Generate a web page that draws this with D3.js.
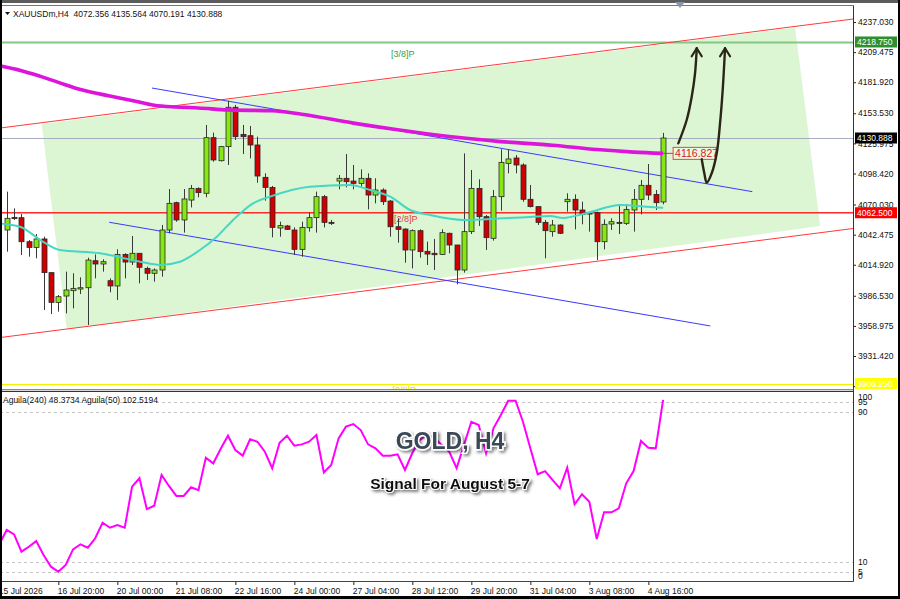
<!doctype html>
<html lang="en">
<head>
<meta charset="utf-8">
<title>XAUUSDm H4</title>
<script src="https://cdn.jsdelivr.net/npm/d3@7"></script>
<style>
  body { margin: 0; overflow: hidden; background: #fff; }
  svg { display: block; font-family: "Liberation Sans", Arial, sans-serif; }
</style>
</head>
<body>
<script>
// ---- candles (H4), bar 0 = leftmost visible bar ----
const opens  = [4046.7,4058.3,4058.0,4036.0,4030.8,4038.5,4007.7,3980.5,3986.3,3991.2,3992.7,3993.9,4018.6,4015.6,4000.3,3995.5,4024.4,4017.4,4025.4,4011.6,4007.1,4010.1,4046.7,4071.7,4055.9,4074.1,4084.8,4080.3,4131.2,4110.1,4123.0,4159.0,4134.2,4133.0,4124.5,4094.9,4085.7,4048.5,4050.4,4046.7,4029.0,4048.8,4058.0,4077.2,4053.7,4091.5,4094.0,4091.5,4089.4,4094.0,4078.7,4083.3,4073.2,4049.7,4047.6,4028.4,4046.1,4027.2,4025.4,4024.4,4043.7,4033.0,4010.1,4045.2,4084.8,4058.9,4039.1,4077.2,4107.7,4112.6,4106.2,4074.8,4068.1,4053.7,4045.2,4051.3,4072.6,4074.8,4065.0,4062.6,4062.6,4036.0,4052.2,4053.7,4052.8,4065.0,4074.8,4087.6,4079.3,4072.356];
const highs  = [4081.8,4066.5,4061.3,4037.5,4043.0,4040.6,4007.7,3987.2,4008.6,4007.1,4003.4,4021.4,4024.4,4019.9,4002.5,4029.0,4025.4,4041.2,4025.4,4013.2,4011.6,4051.3,4084.2,4072.6,4084.2,4087.9,4085.7,4142.8,4135.8,4123.6,4165.0,4161.1,4142.8,4141.9,4132.1,4098.6,4087.0,4054.3,4051.3,4049.1,4054.3,4062.6,4081.8,4078.7,4055.9,4097.0,4116.2,4106.2,4102.2,4098.6,4094.0,4084.8,4074.1,4057.4,4048.2,4047.3,4047.3,4036.0,4038.5,4047.3,4044.3,4033.0,4116.8,4101.6,4093.1,4060.4,4083.3,4120.5,4120.5,4115.3,4107.7,4087.9,4068.1,4055.9,4055.9,4051.9,4080.3,4079.3,4072.6,4062.6,4063.5,4056.5,4057.4,4070.5,4070.5,4084.2,4092.5,4107.1,4083.3,4135.564];
const lows   = [4026.9,4055.9,4023.8,4022.3,4020.8,3973.5,3969.8,3972.0,3970.4,3975.0,3988.1,3959.8,4002.5,4008.6,3989.7,3982.7,4002.5,4014.7,3997.9,4001.0,3999.4,4004.0,4043.7,4054.3,4044.3,4067.4,4076.6,4076.6,4109.2,4109.5,4106.2,4129.1,4116.2,4112.3,4090.0,4073.5,4040.0,4040.6,4046.7,4023.8,4022.3,4045.2,4044.3,4049.1,4051.3,4083.9,4085.7,4083.9,4086.4,4065.6,4071.1,4069.6,4040.6,4035.1,4016.8,4011.6,4021.4,4014.7,4010.1,4023.8,4025.4,3997.0,4007.7,4043.0,4050.4,4028.4,4037.0,4064.4,4098.6,4098.6,4072.6,4067.4,4051.3,4020.8,4040.6,4043.0,4063.5,4047.3,4051.9,4045.2,4019.2,4029.0,4046.7,4043.0,4051.3,4045.2,4061.0,4074.1,4065.0,4070.191];
const closes = [4057.4,4057.1,4036.0,4030.8,4038.5,4007.7,3980.5,3985.7,3991.8,3993.3,3993.9,4019.2,4015.6,4017.7,3995.5,4024.4,4017.4,4025.4,4012.6,4007.1,4010.1,4046.7,4071.1,4055.9,4075.1,4084.8,4080.9,4131.2,4110.8,4123.0,4159.0,4132.1,4132.1,4124.5,4096.1,4085.7,4049.1,4050.7,4047.3,4029.0,4049.1,4058.0,4077.2,4053.7,4052.8,4094.0,4090.9,4089.4,4094.0,4078.7,4083.3,4072.6,4049.7,4047.3,4028.4,4046.1,4026.9,4024.7,4024.1,4044.3,4033.0,4010.1,4045.2,4084.8,4058.9,4039.7,4077.2,4108.6,4111.7,4106.2,4074.8,4068.1,4053.7,4046.1,4051.3,4043.7,4074.8,4065.0,4061.0,4061.3,4036.0,4051.9,4054.3,4052.8,4065.6,4074.8,4087.6,4078.7,4071.7,4130.888];

// ---- moving averages, [bar, price] ----
const maSlow = [[-1,4197.0],[2,4192.5],[4,4188.5],[7,4181.8],[10,4175.2],[14,4169.3],[17,4165.2],[20,4160.8],[23,4159.2],[26,4158.4],[30,4156.6],[36,4155.8],[40,4152.6],[47,4144.5],[53,4138.4],[60,4132.2],[67,4127.6],[74,4124.3],[80,4120.3],[85,4118.0],[89,4116.8]];
const maFast = [[-1,4052.8],[1.8,4049.7],[4.9,4036.0],[7.2,4028.4],[12.7,4025.4],[15,4022.3],[18.1,4017.7],[20.8,4014.7],[23.5,4017.7],[26.2,4028.4],[28.5,4040.6],[30.7,4055.9],[33.4,4071.1],[35.7,4077.2],[41.1,4086.3],[46.5,4087.9],[49.3,4083.3],[52,4077.2],[54.7,4065.0],[57.4,4060.4],[61.9,4055.9],[67.3,4057.4],[71,4058.6],[73.7,4059.5],[75.4,4057.7],[78.7,4062.3],[83.2,4069.6],[86.8,4068.0],[89,4067.1]];

// ---- indicator Aguila(50), starts at bar -1 ----
const aguilaStart = -1;
const aguila50 = [19.5,27.1,24.8,15.6,18.2,21.2,13.8,7.6,4.9,8.5,16.8,19.5,17.7,22.7,31.0,28.3,29.7,28.3,50.1,54.6,38.2,40.0,56.3,50.5,45.2,45.2,49.8,48.3,65.5,62.5,70.1,77.2,69.6,66.6,75.3,74.0,68.7,59.9,73.5,77.2,71.9,72.6,74.0,77.6,57.7,61.6,75.8,82.0,83.4,80.2,72.6,70.5,66.6,66.6,67.3,59.0,68.0,74.9,77.6,76.0,72.2,68.7,59.9,72.2,84.6,82.9,67.8,81.1,88.2,95.8,95.8,84.6,70.5,56.7,58.4,53.7,49.2,60.2,40.7,46.1,42.1,22.3,36.5,36.5,38.6,51.9,58.4,74.4,70.8,70.5,96.2];
const indLevels = [100, 95, 90, 10, 5, 0];
const indDashed = [95, 90, 10, 5];

// ---- drawn objects, [bar, price] ----
const channelUp = [[-0.91,4140.0],[114.8,4239.8]];
const channelDn = [[-0.91,3948.3],[114.8,4048.1]];
const trendUp = [[19.7,4176.6],[101.1,4081.8]];
const trendDn = [[13.9,4053.8],[95.4,3958.9]];
const shadeCorners = [[4.75,4143.7],[106.9,4232.0],[110.3,4050.4],[8.14,3956.1]];
const arrowA = [[91.06,4126.0],[92.2,4147.4],[92.88,4168.7],[93.33,4190.1],[93.56,4213.0]];
const arrowB = [[94.24,4111.4],[94.59,4098.6],[94.92,4090.0],[95.59,4098.6],[96.27,4116.9],[96.72,4144.3],[97.08,4174.8],[97.4,4213.0]];
const maLabel = 4116.827;

// ---- levels ----
const levelPrices = [4218.750, 4130.888, 4062.500, 3906.250];
const levelColors = ["#2e8f2e", "#000000", "#ff0000", "#ffff00"];
const lineColors  = ["#86c686", "#a8adbd", "#ff2a2a", "#f4f000"];
const lineWidths  = [2, 1, 1.6, 1];
const murreyText  = ["[3/8]P", "[2/8]P", "[0/8]P"];
const murreyAt    = [[52.1, 4218.750, 15], [52.5, 4062.500, 9], [52.3, 3906.250, 9]];

// ---- axes ----
const priceTicks = [4237.030,4209.475,4181.920,4153.530,4125.975,4098.420,4070.030,4042.475,4014.920,3986.530,3958.975,3931.420,3903.865];
const timeTickBars = [-1,7,15,23,31,39,47,55,63,71,79,87];
const timeLabels = ["15 Jul 2026","16 Jul 20:00","20 Jul 00:00","21 Jul 08:00","22 Jul 16:00","24 Jul 00:00","27 Jul 04:00","28 Jul 12:00","29 Jul 20:00","31 Jul 04:00","3 Aug 08:00","4 Aug 16:00"];

const W = 900, H = 599;
const paneR = 853, mainT = 6, mainB = 389, indT = 392, indB = 581;

const x = d3.scaleLinear().domain([0, 89]).range([6.7, 663.1]);
const y = d3.scaleLinear().domain([4237.03, 3931.42]).range([22, 356]);
const yi = d3.scaleLinear().domain([0, 100]).range([581, 392.8]);

const svg = d3.select("body").append("svg").attr("width", W).attr("height", H);
const defs = svg.append("defs");
defs.append("clipPath").attr("id", "cMain").append("rect")
  .attr("x", 0).attr("y", mainT).attr("width", paneR).attr("height", mainB - mainT);
defs.append("clipPath").attr("id", "cInd").append("rect")
  .attr("x", 0).attr("y", indT).attr("width", paneR).attr("height", indB - indT);
const sh = defs.append("filter").attr("id", "shadow").attr("x", "-10%").attr("y", "-30%").attr("width", "130%").attr("height", "170%");
sh.append("feDropShadow").attr("dx", 2).attr("dy", 2).attr("stdDeviation", 1.4)
  .attr("flood-color", "#000").attr("flood-opacity", 0.5);

svg.append("rect").attr("width", W).attr("height", H).attr("fill", "#fff");

const main = svg.append("g").attr("clip-path", "url(#cMain)");
const px = d => [x(d[0]), y(d[1])];

// shaded channel
main.append("polygon")
  .attr("points", shadeCorners.map(d => px(d).join(",")).join(" "))
  .attr("fill", "#dcf6d4");

// horizontal levels
const levels = main.append("g");
levels.selectAll("line").data(levelPrices).join("line")
  .attr("x1", 0).attr("x2", paneR)
  .attr("y1", (d, i) => i === 2 ? y(d) : Math.round(y(d)) + 0.5)
  .attr("y2", (d, i) => i === 2 ? y(d) : Math.round(y(d)) + 0.5)
  .style("stroke", (d, i) => lineColors[i]).style("stroke-width", (d, i) => lineWidths[i]);
const mColors = ["#3c9e3c", "#e03c3c", "#e8e000"];
murreyText.forEach((t, i) => {
  main.append("text").attr("x", x(murreyAt[i][0])).attr("y", y(murreyAt[i][1]) + murreyAt[i][2])
    .attr("font-size", 9).attr("fill", mColors[i]).text(t);
});

// trend lines
const seg = d3.line().x(d => x(d[0])).y(d => y(d[1]));
[channelUp, channelDn].forEach(l => main.append("path").attr("d", seg(l))
  .attr("stroke", "#ff3a3a").attr("stroke-width", 1).attr("fill", "none"));
[trendUp, trendDn].forEach(l => main.append("path").attr("d", seg(l))
  .attr("stroke", "#3a3aff").attr("stroke-width", 1).attr("fill", "none"));

// candles
const bars = d3.range(opens.length);
main.append("g").selectAll("line").data(bars).join("line")
  .attr("x1", i => Math.round(x(i)) + 0.5).attr("x2", i => Math.round(x(i)) + 0.5)
  .attr("y1", i => y(highs[i])).attr("y2", i => y(lows[i]))
  .attr("stroke", "#3a3a3a").attr("stroke-width", 1);
main.append("g").selectAll("rect").data(bars).join("rect")
  .attr("x", i => Math.round(x(i)) - 2)
  .attr("y", i => Math.min(y(opens[i]), y(closes[i])))
  .attr("width", 5)
  .attr("height", i => Math.max(1, Math.abs(y(opens[i]) - y(closes[i]))))
  .attr("fill", i => closes[i] >= opens[i] ? "#86e812" : "#d00000")
  .attr("stroke", "#262626").attr("stroke-width", 0.8);

// moving averages
const curve = d3.line().x(d => x(d[0])).y(d => y(d[1])).curve(d3.curveMonotoneX);
main.append("path").attr("d", curve(maFast)).attr("fill", "none")
  .attr("stroke", "#46d6c4").attr("stroke-width", 2);
main.append("path").attr("d", curve(maSlow)).attr("fill", "none")
  .attr("stroke", "#dc14dc").attr("stroke-width", 3.6);

// MA price tag
const tagY = y(maLabel);
main.append("line").attr("x1", x(89)).attr("x2", x(89) + 10).attr("y1", tagY).attr("y2", tagY)
  .attr("stroke", "#e03030");
main.append("rect").attr("x", x(89) + 10).attr("y", tagY - 6).attr("width", 43).attr("height", 12)
  .attr("fill", "rgba(255,255,255,0.35)").attr("stroke", "#e04848");
main.append("text").attr("x", x(89) + 12).attr("y", tagY + 4).attr("font-size", 10.5)
  .attr("fill", "#d82020").text(d3.format(".3f")(maLabel));

// arrows
const arrowLine = d3.line().x(d => x(d[0])).y(d => y(d[1])).curve(d3.curveCatmullRom);
[arrowA, arrowB].forEach(a => {
  main.append("path").attr("d", arrowLine(a)).attr("fill", "none")
    .attr("stroke", "#2a2517").attr("stroke-width", 2.4).attr("stroke-linecap", "round");
  const [tx, ty] = px(a[a.length - 1]);
  main.append("path").attr("d", `M${tx - 5},${ty + 8}L${tx},${ty}L${tx + 5},${ty + 8}`)
    .attr("fill", "none").attr("stroke", "#2a2517").attr("stroke-width", 2.2)
    .attr("stroke-linejoin", "round").attr("stroke-linecap", "round");
});

// ---- indicator pane ----
const ind = svg.append("g").attr("clip-path", "url(#cInd)");
indDashed.forEach(v => ind.append("line").attr("x1", 0).attr("x2", paneR)
  .attr("y1", Math.round(yi(v)) + 0.5).attr("y2", Math.round(yi(v)) + 0.5)
  .attr("stroke", "#c4c4c4").attr("stroke-dasharray", "3,3"));
ind.append("path")
  .attr("d", d3.line().x((d, i) => x(i + aguilaStart)).y(d => yi(d))(aguila50))
  .attr("fill", "none").attr("stroke", "#ff00ff").attr("stroke-width", 2);
svg.append("text").attr("x", 3).attr("y", 403).attr("font-size", 8.5).attr("fill", "#111")
  .text("Aguila(240) 48.3734  Aguila(50) 102.5194");

// ---- right price axis ----
const rAxis = svg.append("g").attr("transform", `translate(${paneR},0)`)
  .call(d3.axisRight(y).tickValues(priceTicks).tickFormat(d3.format(".3f")).tickSize(3).tickPadding(2));
rAxis.select(".domain").remove();
rAxis.selectAll("text").attr("font-size", 8.5).attr("font-family", "Liberation Sans, Arial, sans-serif").attr("fill", "#111");
rAxis.selectAll("line").attr("stroke", "#222");

levelPrices.forEach((p, i) => {
  const yy = y(p);
  svg.append("rect").attr("x", 855).attr("y", yy - 5.5).attr("width", 42).attr("height", 11)
    .attr("fill", levelColors[i]);
  svg.append("text").attr("x", 857).attr("y", yy + 3.3).attr("font-size", 8.5)
    .attr("fill", "#fff").text(d3.format(".3f")(p));
});

indLevels.forEach(v => {
  const yy = Math.max(397, Math.min(576, yi(v)));
  svg.append("text").attr("x", 858).attr("y", yy + 3).attr("font-size", 8.5).attr("fill", "#111").text(v);
});

// ---- time axis ----
const tAxis = svg.append("g").attr("transform", `translate(0,${indB})`)
  .call(d3.axisBottom(x).tickValues(timeTickBars).tickFormat((d, i) => timeLabels[i]).tickSize(4).tickPadding(3));
tAxis.select(".domain").remove();
tAxis.selectAll("text").attr("text-anchor", "start").attr("dx", -1).attr("font-size", 8.5)
  .attr("font-family", "Liberation Sans, Arial, sans-serif").attr("fill", "#111");
tAxis.selectAll("line").attr("stroke", "#222");

// ---- frames ----
const frame = svg.append("g").attr("fill", "none");
frame.append("line").attr("x1", 0).attr("x2", paneR + 0.5).attr("y1", 5.5).attr("y2", 5.5).attr("stroke", "#777");
frame.append("line").attr("x1", paneR + 0.5).attr("x2", paneR + 0.5).attr("y1", 5.5).attr("y2", indB + 0.5).attr("stroke", "#333");
frame.append("line").attr("x1", 0).attr("x2", paneR).attr("y1", mainB + 0.5).attr("y2", mainB + 0.5).attr("stroke", "#888");
frame.append("rect").attr("x", 0).attr("y", mainB + 1).attr("width", paneR).attr("height", 1.5).attr("fill", "#d8d8d8");
frame.append("line").attr("x1", 0).attr("x2", paneR).attr("y1", indT - 0.5).attr("y2", indT - 0.5).attr("stroke", "#333");
frame.append("line").attr("x1", 0).attr("x2", paneR + 0.5).attr("y1", indB + 0.5).attr("y2", indB + 0.5).attr("stroke", "#444");

svg.append("rect").attr("x", 0).attr("y", 0).attr("width", W).attr("height", 3).attr("fill", "#5c5c5c");
svg.append("rect").attr("x", 0).attr("y", 0).attr("width", 2).attr("height", H).attr("fill", "#000");
svg.append("rect").attr("x", W - 2).attr("y", 0).attr("width", 2).attr("height", H).attr("fill", "#000");
svg.append("rect").attr("x", 0).attr("y", H - 3).attr("width", W).attr("height", 3).attr("fill", "#000");

// shift marker
svg.append("path").attr("d", "M675,2L685,2L680,8Z").attr("fill", "#8796aa");

// header
svg.append("path").attr("d", "M5,12L10,12L7.5,15Z").attr("fill", "#111");
svg.append("text").attr("x", 13).attr("y", 17).attr("font-size", 8.5).attr("fill", "#111")
  .attr("xml:space", "preserve").text("XAUUSDm,H4  4072.356 4135.564 4070.191 4130.888");

// caption
svg.append("text").attr("x", 450).attr("y", 449).attr("text-anchor", "middle")
  .attr("font-size", 23).attr("font-weight", "bold").attr("fill", "#3b4956")
  .attr("stroke", "#fff").attr("stroke-width", 3).attr("paint-order", "stroke")
  .attr("filter", "url(#shadow)").text("GOLD, H4");
svg.append("text").attr("x", 450).attr("y", 489).attr("text-anchor", "middle")
  .attr("font-size", 15.5).attr("font-weight", "bold").attr("fill", "#111")
  .attr("stroke", "#fff").attr("stroke-width", 2).attr("paint-order", "stroke")
  .attr("filter", "url(#shadow)").text("Signal For August 5-7");
</script>
</body>
</html>
